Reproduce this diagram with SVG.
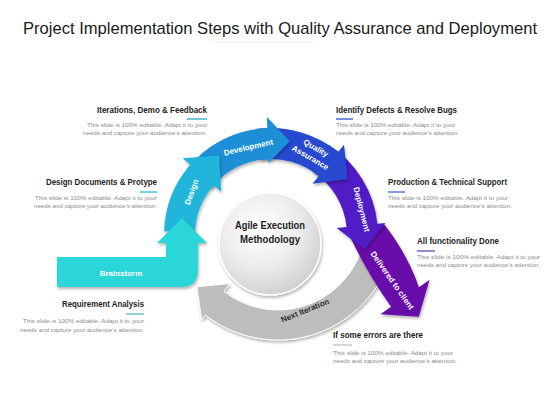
<svg xmlns="http://www.w3.org/2000/svg" width="560" height="420" viewBox="0 0 560 420">
<defs>
<filter id="sh" x="-20%" y="-20%" width="140%" height="140%">
<feDropShadow dx="1" dy="2" stdDeviation="1.5" flood-color="#000" flood-opacity="0.3"/>
</filter>
<radialGradient id="cg" cx="40%" cy="35%" r="70%">
<stop offset="0" stop-color="#ffffff"/>
<stop offset="0.55" stop-color="#ececec"/>
<stop offset="1" stop-color="#cdcdcd"/>
</radialGradient>
<style>
.t{font-family:"Liberation Sans",Arial,sans-serif;}
.h{font-family:"Liberation Sans",Arial,sans-serif;font-weight:bold;font-size:8.5px;fill:#1e1e1e;}
.b{font-family:"Liberation Sans",Arial,sans-serif;font-size:6px;fill:#8c8c8c;}
.lbl{font-family:"Liberation Sans",Arial,sans-serif;font-weight:bold;font-size:8px;fill:#ffffff;text-anchor:middle;}
.ul{stroke-width:1.3;}
.r{text-anchor:end;}
</style>
</defs>
<rect width="560" height="420" fill="#ffffff"/>
<g id="title">
<text class="t" x="280" y="34" font-size="17" fill="#1a1a1a" text-anchor="middle" textLength="514" lengthAdjust="spacingAndGlyphs">Project Implementation Steps with Quality Assurance and Deployment</text>
<line x1="210" y1="42" x2="313" y2="42" stroke="#ececec" stroke-width="1"/>
</g>
<g id="connectors">
<g id="next-iteration">
<path d="M388.88,262.36 A118,118 0 0 1 205.35,314.99 L201.66,319.71 L196.9,286.8 L229.98,283.46 L223.82,291.34 A88,88 0 0 0 360.69,252.10 Z" fill="#bdbdbd" stroke="#ffffff" stroke-width="1" filter="url(#sh)"/>
<text class="lbl" style="fill:#2b2b2b" transform="translate(306,313) rotate(-22)">Next Iteration</text>
</g>
<g id="delivered">
<path d="M348,232 L384,224 Q408,255 418.9,287.2 L429.6,279.8 L418.8,316.7 L380.4,314.2 L391.1,306.8 Q365,270 348,232 Z" fill="#690faa" filter="url(#sh)"/>
<text class="lbl" transform="translate(390,282) rotate(55)">Delivered to client</text>
</g>
<g id="deployment">
<path d="M329.28,145.26 A107,107 0 0 1 377.41,223.82 L385.37,222.98 L364.5,249.3 L336.64,228.10 L346.58,227.06 A76,76 0 0 0 312.39,171.26 Z" fill="#4f1ec6" filter="url(#sh)"/>
<text class="lbl" transform="translate(359,210) rotate(76)">Deployment</text>
</g>
<g id="quality-assurance">
<path d="M256.11,129.04 A107,107 0 0 1 338.34,151.84 L344.0,144.85 L347.5,179 L312.54,183.71 L318.83,175.94 A76,76 0 0 0 260.42,159.74 Z" fill="#2548d0" filter="url(#sh)"/>
<g transform="translate(313,153) rotate(30)">
<text class="lbl" x="0" y="-3">Quality</text>
<text class="lbl" x="0" y="8">Assurance</text>
</g>
</g>
<g id="development">
<path d="M186.68,169.12 A107,107 0 0 1 267.27,128.07 L266.88,117.07 L289.7,141.3 L268.49,163.04 L268.35,159.05 A76,76 0 0 0 211.11,188.21 Z" fill="#1e8fd6" filter="url(#sh)"/>
<text class="lbl" transform="translate(249,150) rotate(-13)">Development</text>
</g>
<g id="design">
<path d="M164.07,231.27 A107,107 0 0 1 190.25,164.80 L182.70,158.24 L219.0,155.4 L221.19,191.70 L213.64,185.14 A76,76 0 0 0 195.05,232.35 Z" fill="#24b5dc" filter="url(#sh)"/>
<text class="lbl" transform="translate(194,193) rotate(-70)">Design</text>
</g>
<g id="brainstorm">
<path d="M57,257 L166,257 L166,243 L157,243 L182,218 L207,243 L198,243 L198,270 Q198,287 181,287 L57,287 Z" fill="#29d6d8" filter="url(#sh)"/>
<text class="lbl" x="121" y="276">Brainstorm</text>
</g>
</g>
<g id="center">
<circle cx="270" cy="244" r="51" fill="url(#cg)" stroke="#ffffff" stroke-width="1.5" filter="url(#sh)"/>
<text class="t" x="270" y="229" font-size="10.5" font-weight="bold" fill="#1e1e1e" text-anchor="middle" textLength="70" lengthAdjust="spacingAndGlyphs">Agile Execution</text>
<text class="t" x="270" y="243" font-size="10.5" font-weight="bold" fill="#1e1e1e" text-anchor="middle" textLength="60" lengthAdjust="spacingAndGlyphs">Methodology</text>
</g>
<g id="note-iterations">
<text class="h r" x="207" y="113" textLength="110" lengthAdjust="spacingAndGlyphs">Iterations, Demo &amp; Feedback</text>
<line class="ul" x1="187" y1="119" x2="207" y2="119" stroke="#2aa9cf"/>
<text class="b r" x="207" y="127" textLength="120" lengthAdjust="spacingAndGlyphs">This slide is 100% editable. Adapt it to your</text>
<text class="b r" x="207" y="135" textLength="124" lengthAdjust="spacingAndGlyphs">needs and capture your audience’s attention.</text>
</g>
<g id="note-design">
<text class="h r" x="157" y="185" textLength="111" lengthAdjust="spacingAndGlyphs">Design Documents &amp; Protype</text>
<line class="ul" x1="140" y1="192" x2="157" y2="192" stroke="#2ab8d8"/>
<text class="b r" x="157" y="200" textLength="122" lengthAdjust="spacingAndGlyphs">This slide is 100% editable. Adapt it to your</text>
<text class="b r" x="157" y="208" textLength="123" lengthAdjust="spacingAndGlyphs">needs and capture your audience’s attention.</text>
</g>
<g id="note-requirement">
<text class="h r" x="144" y="307" textLength="82" lengthAdjust="spacingAndGlyphs">Requirement Analysis</text>
<line class="ul" x1="126" y1="314" x2="144" y2="314" stroke="#5ab8c0"/>
<text class="b r" x="144" y="323" textLength="121" lengthAdjust="spacingAndGlyphs">This slide is 100% editable. Adapt it to your</text>
<text class="b r" x="144" y="332" textLength="124" lengthAdjust="spacingAndGlyphs">needs and capture your audience’s attention.</text>
</g>
<g id="note-identify">
<text class="h" x="336" y="113" textLength="121" lengthAdjust="spacingAndGlyphs">Identify Defects &amp; Resolve Bugs</text>
<line class="ul" x1="336" y1="119" x2="353" y2="119" stroke="#2a56c6"/>
<text class="b" x="336" y="127" textLength="119" lengthAdjust="spacingAndGlyphs">This slide is 100% editable. Adapt it to your</text>
<text class="b" x="336" y="135" textLength="123" lengthAdjust="spacingAndGlyphs">needs and capture your audience’s attention.</text>
</g>
<g id="note-production">
<text class="h" x="388" y="185" textLength="119" lengthAdjust="spacingAndGlyphs">Production &amp; Technical Support</text>
<line class="ul" x1="388" y1="192" x2="405" y2="192" stroke="#3b63c9"/>
<text class="b" x="388" y="200" textLength="120" lengthAdjust="spacingAndGlyphs">This slide is 100% editable. Adapt it to your</text>
<text class="b" x="388" y="208" textLength="124" lengthAdjust="spacingAndGlyphs">needs and capture your audience’s attention.</text>
</g>
<g id="note-functionality">
<text class="h" x="417" y="244" textLength="82" lengthAdjust="spacingAndGlyphs">All functionality Done</text>
<line class="ul" x1="417" y1="251" x2="435" y2="251" stroke="#5b4db8"/>
<text class="b" x="417" y="259" textLength="123" lengthAdjust="spacingAndGlyphs">This slide is 100% editable. Adapt it to your</text>
<text class="b" x="417" y="267" textLength="123" lengthAdjust="spacingAndGlyphs">needs and capture your audience’s attention.</text>
</g>
<g id="note-errors">
<text class="h" x="333" y="338" textLength="90" lengthAdjust="spacingAndGlyphs">If some errors are there</text>
<line class="ul" x1="333" y1="345" x2="352" y2="345" stroke="#c0c0c0"/>
<text class="b" x="333" y="355" textLength="120" lengthAdjust="spacingAndGlyphs">This slide is 100% editable. Adapt it to your</text>
<text class="b" x="333" y="363" textLength="124" lengthAdjust="spacingAndGlyphs">needs and capture your audience’s attention.</text>
</g>
</svg>
